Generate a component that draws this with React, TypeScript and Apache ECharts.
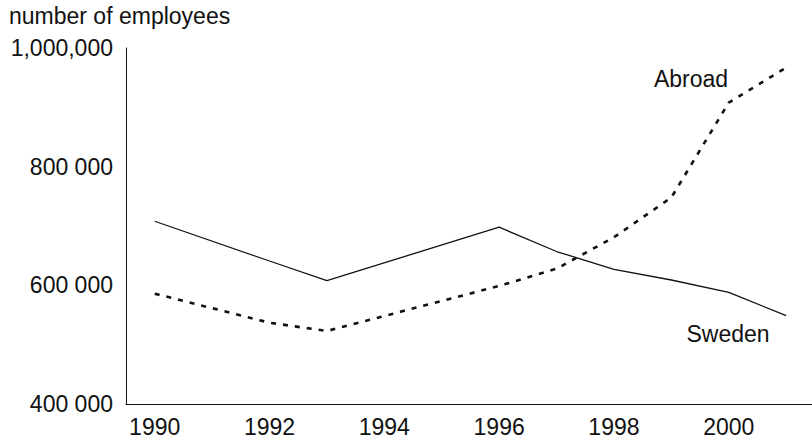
import React, { useEffect, useRef } from "react";
import * as echarts from "echarts";

const yearsSweden = [1990, 1992, 1993, 1996, 1997, 1998, 1999, 2000, 2001];
const valuesSweden = [708000, 641000, 608000, 698000, 657000, 627000, 609000, 588000, 549000];
const yearsAbroad = [1990, 1992, 1993, 1996, 1997, 1998, 1999, 2000, 2001];
const valuesAbroad = [586000, 537000, 523000, 599000, 628000, 681000, 748000, 908000, 967000];
const xTickLabels = [1990, 1992, 1994, 1996, 1998, 2000];
const yTicks = [400000, 600000, 800000, 1000000];

const FONT = '"Liberation Sans", Arial, Helvetica, sans-serif';

export default function App() {
  const ref = useRef<HTMLDivElement>(null);
  useEffect(() => {
    if (!ref.current) return;
    const chart = echarts.init(ref.current, null, { renderer: "svg" });
    chart.setOption({
      animation: false,
      backgroundColor: "#fff",
      textStyle: { fontFamily: FONT },
      grid: { left: 126, right: 0, top: 48, bottom: 36, containLabel: false },
      xAxis: {
        type: "value",
        min: 1989.5,
        max: 2001.45,
        splitLine: { show: false },
        axisLine: { show: true, lineStyle: { color: "#111", width: 1 } },
        axisTick: { show: false },
        axisLabel: {
          customValues: xTickLabels,
          color: "#111",
          fontSize: 23,
          fontFamily: FONT,
          margin: 11,
          formatter: (v: number) => String(v),
        },
      },
      yAxis: {
        type: "value",
        min: 400000,
        max: 1000000,
        splitLine: { show: false },
        axisLine: { show: true, lineStyle: { color: "#111", width: 1 } },
        axisTick: { show: false },
        axisLabel: {
          customValues: yTicks,
          color: "#111",
          fontSize: 23,
          fontFamily: FONT,
          margin: 13,
          formatter: (v: number) =>
            v === 1000000 ? "1,000,000" : String(v / 1000) + " 000",
        },
      },
      graphic: [
        {
          type: "text",
          left: 9,
          top: 4,
          style: { text: "number of employees", fontSize: 23, fontFamily: FONT, fill: "#111" },
        },
        {
          type: "text",
          x: 691,
          y: 79,
          style: { text: "Abroad", fontSize: 23, fontFamily: FONT, fill: "#111", textAlign: "center", textVerticalAlign: "middle" },
        },
        {
          type: "text",
          x: 728,
          y: 334,
          style: { text: "Sweden", fontSize: 23, fontFamily: FONT, fill: "#111", textAlign: "center", textVerticalAlign: "middle" },
        },
      ],
      series: [
        {
          name: "Sweden",
          type: "line",
          data: yearsSweden.map((y, i) => [y, valuesSweden[i]]),
          showSymbol: false,
          symbol: "none",
          lineStyle: { color: "#111", width: 1.3, type: "solid" },
        },
        {
          name: "Abroad",
          type: "line",
          data: yearsAbroad.map((y, i) => [y, valuesAbroad[i]]),
          showSymbol: false,
          symbol: "none",
          lineStyle: { color: "#111", width: 2.6, type: [5, 7] },
        },
      ],
    });
    return () => chart.dispose();
  }, []);
  return <div ref={ref} style={{ width: 812, height: 440, position: "absolute", left: 0, top: 0 }} />;
}
